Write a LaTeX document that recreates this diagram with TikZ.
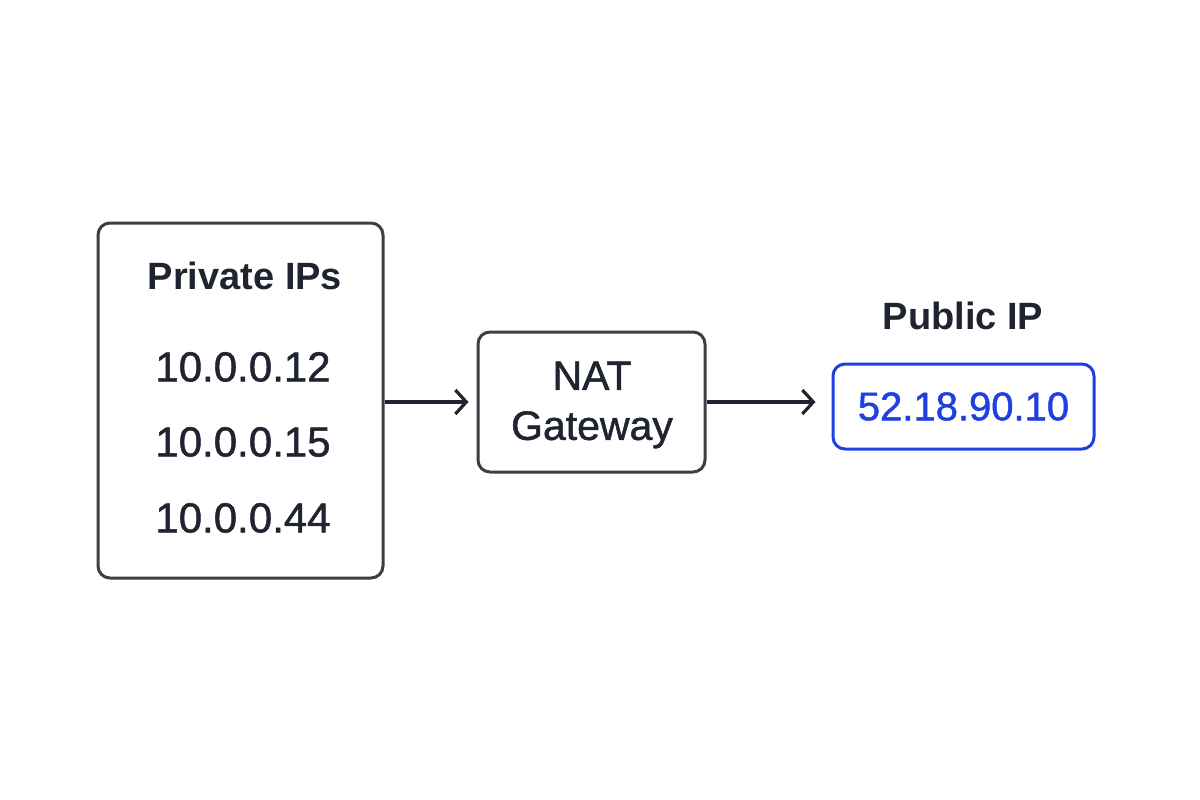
\documentclass[tikz,border=0pt]{standalone}
\usepackage{fontspec}
\setmainfont{Liberation Sans}
\newfontfamily\mediumfont[FakeBold=1.2]{Liberation Sans}
\usetikzlibrary{arrows.meta}
\definecolor{ink}{HTML}{1F2430}
\definecolor{edge}{HTML}{3A3F47}
\definecolor{pubblue}{HTML}{1F3FE0}
\tikzset{
  box/.style={draw=edge, line width=3pt, rounded corners=12pt},
  title/.style={text=ink, font=\fontsize{38}{44}\selectfont\bfseries},
  addr/.style={text=ink, font=\mediumfont\fontsize{42}{48}\selectfont},
  link/.style={draw=ink, line width=3.2pt,
    -{Straight Barb[length=11pt,width=24pt,line width=3.2pt]}}
}

\begin{document}
\begin{tikzpicture}[x=1pt, y=-1pt]
	\useasboundingbox (0,0) rectangle (1200,800);
	% private side
	\node[box, minimum width=285pt, minimum height=355pt] (priv) at (240.5,400.5) {};
	\node[title] (privtitle) at (245,276) {Private IPs};
	\node[addr] (ipa) at (243,367) {10.0.0.12};
	\node[addr] (ipb) at (243,442) {10.0.0.15};
	\node[addr] (ipc) at (243,518) {10.0.0.44};
	% gateway
	\node[box, minimum width=227pt, minimum height=140pt] (nat) at (591.5,402) {};
	\node[text=ink, font=\mediumfont\fontsize{41}{50}\selectfont, align=center]
	  (natlabel) at (592,405) {NAT\\Gateway};
	% public side
	\node[title] (pubtitle) at (963,316) {Public IP};
	\node[box, draw=pubblue, minimum width=261pt, minimum height=85pt,
	  text=pubblue, font=\mediumfont\fontsize{40}{46}\selectfont] (pub) at (963.5,406.5) {52.18.90.10};
	\draw[link, shorten >=8pt] (priv.east |- nat.west) -- (nat.west);
	\draw[link, shorten >=16pt] (nat.east) -- (nat.east -| pub.west);
\end{tikzpicture}
\end{document}
